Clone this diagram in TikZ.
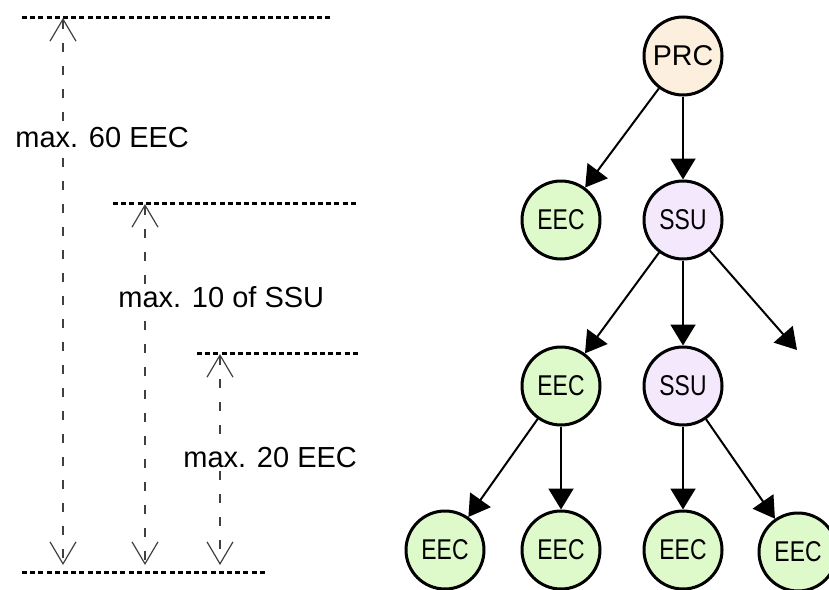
\documentclass[tikz,border=0pt]{standalone}
\usepackage{fontspec}
\setmainfont{Liberation Sans}
\usetikzlibrary{arrows.meta}
\definecolor{prcfill}{RGB}{253,239,221}
\definecolor{eecfill}{RGB}{222,250,202}
\definecolor{ssufill}{RGB}{244,232,252}
\newcommand{\narrowtext}[1]{\scalebox{0.8}[1]{#1}}
\tikzstyle{unit} = [circle, draw=black, line width=1.5pt, minimum size=39pt, 
inner sep=0pt, font=\fontsize{14.3}{17}\selectfont]
\tikzstyle{feed} = [line width=1pt, -{Triangle[length=10.5pt,width=12.5pt]}]
\tikzstyle{cutline} = [line width=1.5pt, dash pattern=on 2.5pt off 1.6pt]
\tikzstyle{reach} = [black!75, line width=0.6pt, dash pattern=on 4.5pt off 7pt, 
{Straight Barb[length=11pt,width=13pt]}-{Straight Barb[length=11pt,width=13pt]}]
\tikzstyle{note} = [anchor=west, fill=white, inner sep=1pt, 
font=\fontsize{14.5}{17}\selectfont]

\begin{document}
\begin{tikzpicture}[x=0.5pt, y=-0.5pt]
\clip (0,0) rectangle (829,589);
% limits on the left
\draw[cutline] (22,17) -- (330,17);
\draw[cutline] (113,203) -- (358,203);
\draw[cutline] (197,353) -- (358,353);
\draw[cutline] (22,572) -- (265,572);
\coordinate (top60) at (63,18);
\coordinate (bot60) at (63,565);
\coordinate (top10) at (145,204);
\coordinate (bot10) at (145,565);
\coordinate (top20) at (220,354);
\coordinate (bot20) at (220,565);
\draw[reach] (top60) -- (bot60);
\draw[reach] (top10) -- (bot10);
\draw[reach] (top20) -- (bot20);
\node[note] (lim60) at (13,138) {max. 60 EEC};
\node[note] (lim10) at (116,297) {max. 10 of SSU};
\node[note] (lim20) at (181,458) {max. 20 EEC};
% tree
\node[unit, fill=prcfill] (prc) at (683,56) {PRC};
\node[unit, fill=eecfill] (eecA) at (561,220) {\narrowtext{EEC}};
\node[unit, fill=ssufill] (ssuA) at (683,220) {\narrowtext{SSU}};
\node[unit, fill=eecfill] (eecB) at (561,386) {\narrowtext{EEC}};
\node[unit, fill=ssufill] (ssuB) at (683,386) {\narrowtext{SSU}};
\coordinate (more) at (797,350);
\node[unit, fill=eecfill] (eecC) at (445,550) {\narrowtext{EEC}};
\node[unit, fill=eecfill] (eecD) at (561,550) {\narrowtext{EEC}};
\node[unit, fill=eecfill] (eecE) at (683,550) {\narrowtext{EEC}};
\node[unit, fill=eecfill] (eecF) at (798,552) {\narrowtext{EEC}};
\draw[feed] (prc) -- (eecA);
\draw[feed] (prc) -- (ssuA);
\draw[feed] (ssuA) -- (eecB);
\draw[feed] (ssuA) -- (ssuB);
\draw[feed] (ssuA) -- (more);
\draw[feed] (eecB) -- (eecC);
\draw[feed] (eecB) -- (eecD);
\draw[feed] (ssuB) -- (eecE);
\draw[feed] (ssuB) -- (eecF);
\end{tikzpicture}
\end{document}
